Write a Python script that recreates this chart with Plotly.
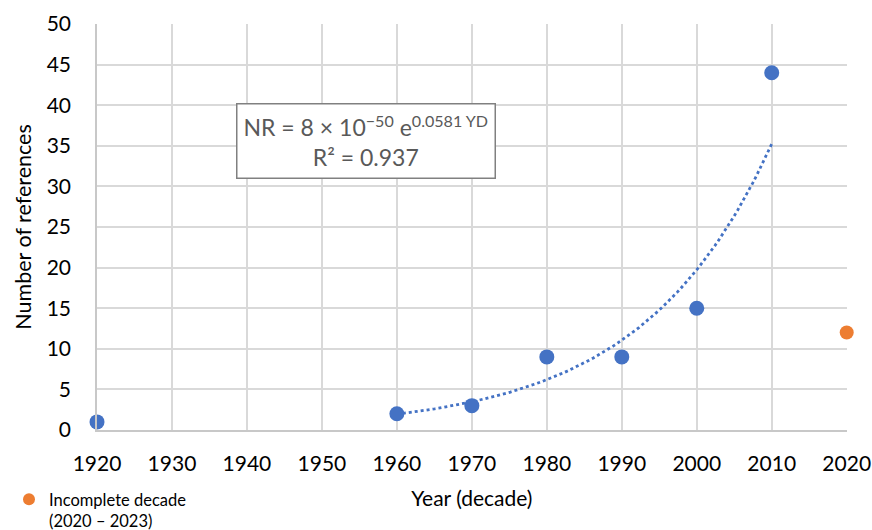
import numpy as np
import plotly.graph_objects as go

years = [1920, 1960, 1970, 1980, 1990, 2000, 2010]
refs = [1, 2, 3, 9, 9, 15, 44]
inc_years = [2020]
inc_refs = [12]
x_ticks = [1920, 1930, 1940, 1950, 1960, 1970, 1980, 1990, 2000, 2010, 2020]
y_ticks = [0, 5, 10, 15, 20, 25, 30, 35, 40, 45, 50]

# exponential fit over 1960-2010 (trendline)
fx = np.array(years[1:], dtype=float)
fy = np.log(np.array(refs[1:], dtype=float))
b, a = np.polyfit(fx, fy, 1)
tx = np.linspace(fx.min(), fx.max(), 100)
ty = np.exp(a + b * tx)

FONT = "Lato"
BLUE = "#4472C4"
ORANGE = "#ED7D31"
W, H = 872, 530

def px_x(p):  # screen x pixel -> paper fraction
    return p / W

def px_y(p):  # screen y pixel -> paper fraction
    return 1 - p / H

fig = go.Figure()
fig.add_trace(go.Scatter(x=tx, y=ty, mode="lines",
                         line=dict(color=BLUE, width=2.8, dash="dot"),
                         showlegend=False, hoverinfo="skip"))
fig.add_trace(go.Scatter(x=years, y=refs, mode="markers",
                         marker=dict(color=BLUE, size=15), showlegend=False,
                         cliponaxis=False))
fig.add_trace(go.Scatter(x=inc_years, y=inc_refs, mode="markers",
                         marker=dict(color=ORANGE, size=14),
                         name="Incomplete decade<br>(2020 – 2023)",
                         showlegend=True, cliponaxis=False))

fig.add_annotation(x=1955.9, y=35.6, xref="x", yref="y",
                   text="NR = 8 × 10<sup>−50</sup> e<sup>0.0581 YD</sup><br>R² = 0.937",
                   showarrow=False, align="center",
                   font=dict(family=FONT, size=23, color="#595959"),
                   bordercolor="#808080", borderwidth=1.5, borderpad=6,
                   bgcolor="white")

fig.update_layout(
    width=W, height=H,
    margin=dict(l=0, r=0, t=0, b=0, autoexpand=False),
    plot_bgcolor="white", paper_bgcolor="white",
    font=dict(family=FONT, size=20, color="black"),
    legend=dict(x=px_x(9), y=px_y(482), xanchor="left", yanchor="top",
                font=dict(family=FONT, size=16.5, color="black"),
                bgcolor="rgba(0,0,0,0)", itemsizing="constant",
                valign="top", tracegroupgap=0),
)
fig.update_xaxes(range=[1920, 2020], tickvals=x_ticks, showgrid=True,
                 domain=[px_x(97), px_x(846.7)], automargin=False,
                 gridcolor="#d9d9d9", gridwidth=1.5, showline=True,
                 linecolor="#c8c8c8", linewidth=1.5, zeroline=False,
                 ticks="", ticklabelstandoff=14, tickfont=dict(size=21),
                 title=dict(text="Year (decade)", font=dict(size=21), standoff=17))
fig.update_yaxes(range=[0, 50], tickvals=y_ticks, showgrid=True,
                 domain=[px_y(430), px_y(24)], automargin=False,
                 gridcolor="#d9d9d9", gridwidth=1.5, showline=True,
                 linecolor="#c8c8c8", linewidth=1.5, zeroline=False,
                 ticks="", ticklabelstandoff=20, tickfont=dict(size=21),
                 title=dict(text="Number of references", font=dict(size=21.5), standoff=9))

fig.write_html("out.html", config={"displayModeBar": False},
               post_script="document.body.style.margin='0';document.body.style.overflow='hidden';")
